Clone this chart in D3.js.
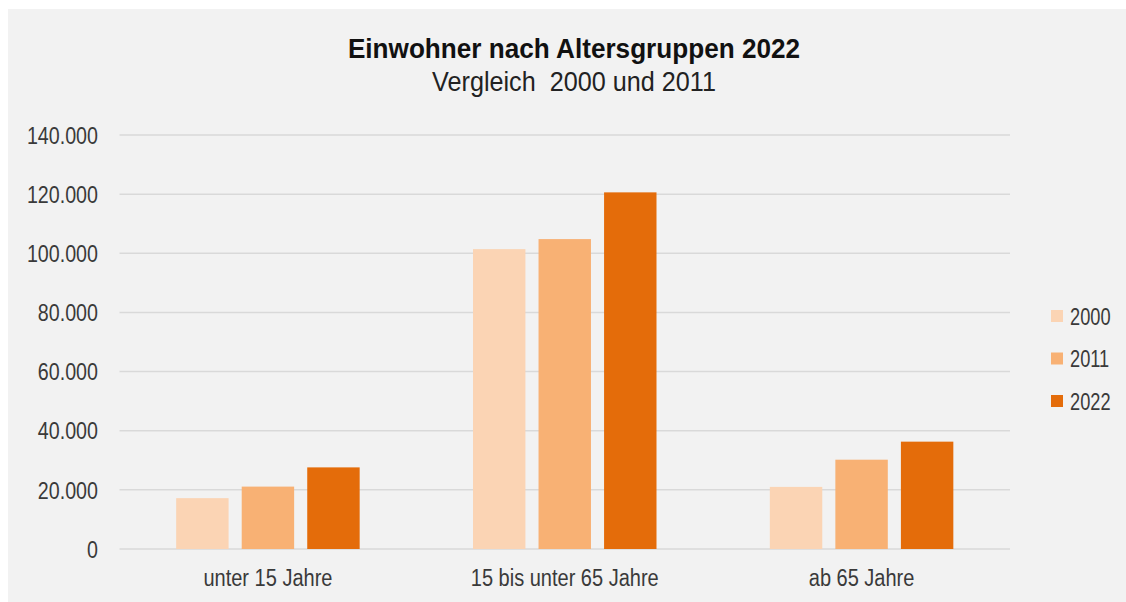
<!DOCTYPE html>
<html>
<head>
<meta charset="utf-8">
<script src="https://cdn.jsdelivr.net/npm/d3@7"></script>
<style>
  body { margin: 0; background: #fff; }
  text { font-family: "Liberation Sans", Arial, sans-serif; }
</style>
</head>
<body>
<div id="viz"></div>
<script>
// data
const categories = ["unter 15 Jahre", "15 bis unter 65 Jahre", "ab 65 Jahre"];
const seriesNames = ["2000", "2011", "2022"];
const values2000 = [17200, 101400, 21000];
const values2011 = [21100, 104800, 30200];
const values2022 = [27600, 120600, 36300];
const yTicks = [0, 20000, 40000, 60000, 80000, 100000, 120000, 140000];
const colors = ["#fbd4b4", "#f8b174", "#e46c0a"];

const width = 1126;
const height = 602;

const series = [values2000, values2011, values2022];
const rows = categories.map((c, i) => ({
  cat: c,
  vals: seriesNames.map((s, j) => ({ key: s, value: series[j][i], idx: j }))
}));

const svg = d3.select('#viz')
  .append("svg")
  .attr("width", width)
  .attr("height", height);

// grey panel
svg.append("rect")
  .attr("x", 8).attr("y", 9)
  .attr("width", width - 8).attr("height", height - 9)
  .attr("fill", "#f2f2f2");

const x = d3.scaleBand().domain(categories).range([119.5, 1010]).padding(0);
const group = 183.5;
const x1 = d3.scaleBand().domain(seriesNames)
  .range([(x.bandwidth() - group) / 2, (x.bandwidth() + group) / 2])
  .paddingInner(0.2);
const y = d3.scaleLinear().domain([0, 140000]).range([549, 135]);

const fmt = d3.formatLocale({ decimal: ",", thousands: ".", grouping: [3], currency: ["", "€"] }).format(",.0f");

// the original uses a narrow font, so squeeze text horizontally
const squeeze = (tx, ty, s) => `translate(${tx},${ty}) scale(${s},1)`;

// gridlines
svg.append("g")
  .selectAll("line")
  .data(yTicks)
  .enter().append("line")
  .attr("x1", 119.5).attr("x2", 1010)
  .attr("y1", d => y(d)).attr("y2", d => y(d))
  .attr("stroke", "#d9d9d9")
  .attr("stroke-width", 1.5);

// y labels
svg.append("g")
  .selectAll("text")
  .data(yTicks)
  .enter().append("text")
  .attr("transform", d => squeeze(98, y(d), 0.82))
  .attr("dy", "0.36em")
  .attr("text-anchor", "end")
  .attr("font-size", 24)
  .attr("fill", "#3a3a3a")
  .text(d => fmt(d));

// bars
const groups = svg.append("g")
  .selectAll("g")
  .data(rows)
  .enter().append("g")
  .attr("transform", d => `translate(${x(d.cat)},0)`);

groups.selectAll("rect")
  .data(d => d.vals)
  .enter().append("rect")
  .attr("x", d => x1(d.key))
  .attr("width", x1.bandwidth())
  .attr("y", d => y(d.value))
  .attr("height", d => y(0) - y(d.value))
  .attr("fill", d => colors[d.idx]);

// category labels
svg.append("g")
  .selectAll("text")
  .data(categories)
  .enter().append("text")
  .attr("transform", d => squeeze(x(d) + x.bandwidth() / 2, 586, 0.87))
  .attr("text-anchor", "middle")
  .attr("font-size", 23)
  .attr("fill", "#3a3a3a")
  .text(d => d);

// title
svg.append("text")
  .attr("transform", squeeze(574, 58, 0.934))
  .attr("text-anchor", "middle")
  .attr("font-size", 28)
  .attr("font-weight", "bold")
  .attr("fill", "#111")
  .text("Einwohner nach Altersgruppen 2022");

svg.append("text")
  .attr("transform", squeeze(574, 91, 0.9))
  .attr("text-anchor", "middle")
  .attr("font-size", 28)
  .attr("fill", "#222")
  .style("white-space", "pre")
  .text("Vergleich  2000 und 2011");

// legend
const legend = svg.append("g")
  .selectAll("g")
  .data(seriesNames)
  .enter().append("g")
  .attr("transform", (d, i) => `translate(1051,${316 + i * 42.5})`);

legend.append("rect")
  .attr("x", 0).attr("y", -6)
  .attr("width", 12).attr("height", 12)
  .attr("fill", (d, i) => colors[i]);

legend.append("text")
  .attr("transform", squeeze(19, 0, 0.76))
  .attr("dy", "0.36em")
  .attr("font-size", 24)
  .attr("fill", "#3a3a3a")
  .text(d => d);
</script>
</body>
</html>
